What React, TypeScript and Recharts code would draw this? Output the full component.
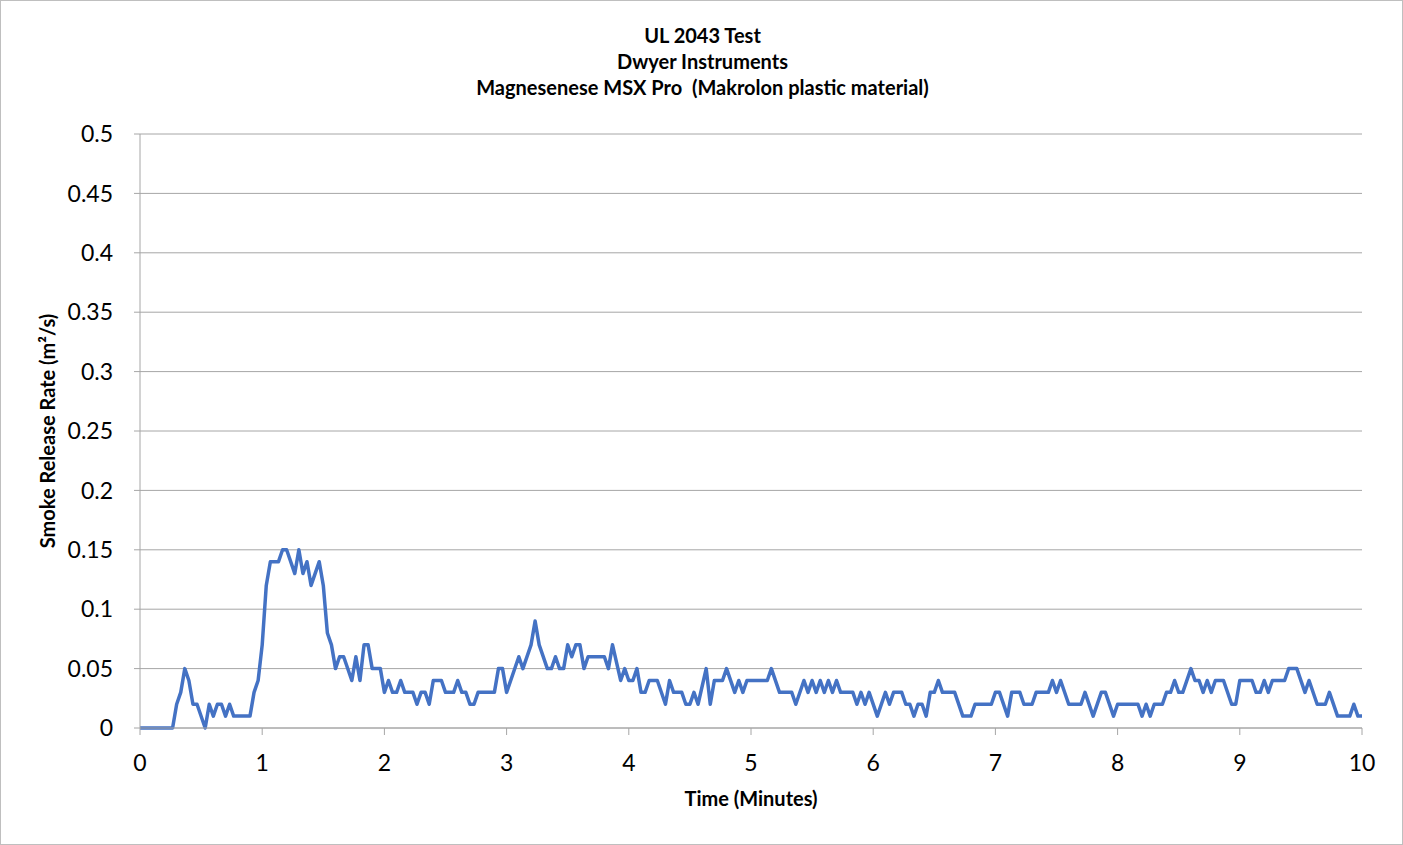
import { LineChart, Line, XAxis, YAxis, CartesianGrid } from "recharts"

// smoke release readings, time in seconds (2 s logging), value in m²/s
const seconds = [
  0, 16, 18, 20, 22, 24, 26, 28, 32, 34, 36, 38, 40, 42, 44, 46, 54, 56, 58, 60,
  62, 64, 68, 70, 72, 76, 78, 80, 82, 84, 88, 90, 92, 94, 96, 98, 100, 104, 106, 108,
  110, 112, 114, 118, 120, 122, 124, 126, 128, 130, 134, 136, 138, 140, 142, 144, 148, 150, 154, 156,
  158, 160, 162, 164, 166, 174, 176, 178, 180, 186, 188, 192, 194, 196, 200, 202, 204, 206, 208, 210,
  212, 214, 216, 218, 220, 228, 230, 232, 236, 238, 240, 242, 244, 246, 248, 250, 254, 258, 260, 262,
  266, 268, 270, 272, 274, 278, 280, 282, 286, 288, 292, 294, 296, 298, 308, 310, 314, 320, 322, 326,
  328, 330, 332, 334, 336, 338, 340, 342, 344, 350, 352, 354, 356, 358, 362, 366, 368, 370, 374, 376,
  378, 380, 382, 384, 386, 388, 390, 392, 394, 400, 404, 408, 410, 418, 420, 422, 426, 428, 432, 434,
  438, 440, 446, 448, 450, 452, 456, 462, 464, 468, 472, 474, 478, 480, 490, 492, 494, 496, 498, 502,
  504, 506, 508, 510, 512, 516, 518, 520, 522, 524, 526, 528, 532, 536, 538, 540, 546, 548, 550, 552,
  554, 556, 562, 564, 568, 572, 574, 578, 582, 584, 588, 594, 596, 598, 600,
]
const smokeRate = [
  0, 0, 0.02, 0.03, 0.05, 0.04, 0.02, 0.02, 0, 0.02, 0.01, 0.02, 0.02, 0.01, 0.02, 0.01, 0.01, 0.03, 0.04, 0.07,
  0.12, 0.14, 0.14, 0.15, 0.15, 0.13, 0.15, 0.13, 0.14, 0.12, 0.14, 0.12, 0.08, 0.07, 0.05, 0.06, 0.06, 0.04, 0.06, 0.04,
  0.07, 0.07, 0.05, 0.05, 0.03, 0.04, 0.03, 0.03, 0.04, 0.03, 0.03, 0.02, 0.03, 0.03, 0.02, 0.04, 0.04, 0.03, 0.03, 0.04,
  0.03, 0.03, 0.02, 0.02, 0.03, 0.03, 0.05, 0.05, 0.03, 0.06, 0.05, 0.07, 0.09, 0.07, 0.05, 0.05, 0.06, 0.05, 0.05, 0.07,
  0.06, 0.07, 0.07, 0.05, 0.06, 0.06, 0.05, 0.07, 0.04, 0.05, 0.04, 0.04, 0.05, 0.03, 0.03, 0.04, 0.04, 0.02, 0.04, 0.03,
  0.03, 0.02, 0.02, 0.03, 0.02, 0.05, 0.02, 0.04, 0.04, 0.05, 0.03, 0.04, 0.03, 0.04, 0.04, 0.05, 0.03, 0.03, 0.02, 0.04,
  0.03, 0.04, 0.03, 0.04, 0.03, 0.04, 0.03, 0.04, 0.03, 0.03, 0.02, 0.03, 0.02, 0.03, 0.01, 0.03, 0.02, 0.03, 0.03, 0.02,
  0.02, 0.01, 0.02, 0.02, 0.01, 0.03, 0.03, 0.04, 0.03, 0.03, 0.01, 0.01, 0.02, 0.02, 0.03, 0.03, 0.01, 0.03, 0.03, 0.02,
  0.02, 0.03, 0.03, 0.04, 0.03, 0.04, 0.02, 0.02, 0.03, 0.01, 0.03, 0.03, 0.01, 0.02, 0.02, 0.01, 0.02, 0.01, 0.02, 0.02,
  0.03, 0.03, 0.04, 0.03, 0.03, 0.05, 0.04, 0.04, 0.03, 0.04, 0.03, 0.04, 0.04, 0.02, 0.02, 0.04, 0.04, 0.03, 0.03, 0.04,
  0.03, 0.04, 0.04, 0.05, 0.05, 0.03, 0.04, 0.02, 0.02, 0.03, 0.01, 0.01, 0.02, 0.01, 0.01,
]

const xTicks = [0, 1, 2, 3, 4, 5, 6, 7, 8, 9, 10]
const yTicks = [0, 0.05, 0.1, 0.15, 0.2, 0.25, 0.3, 0.35, 0.4, 0.45, 0.5]
const titleLines = ["UL 2043 Test", "Dwyer Instruments", "Magnesenese MSX Pro  (Makrolon plastic material)"]

const data = seconds.map((s, i) => ({ t: s / 60, v: smokeRate[i] }))

const font = "Lato, Calibri, 'Open Sans', sans-serif"
const gridColor = "#a6a6a6"

export default function App() {
  return (
    <div
      style={{
        position: "absolute",
        left: 0,
        top: 0,
        width: 1403,
        height: 845,
        boxSizing: "border-box",
        border: "1px solid #bfbfbf",
        background: "#fff",
        fontFamily: font,
      }}
    >
      <div style={{ position: "absolute", left: 0, top: 0 }}>
        <LineChart width={1403} height={845} data={data} margin={{ top: 133, right: 42, bottom: 88, left: 0 }}>
          <CartesianGrid vertical={false} stroke={gridColor} strokeWidth={1} />
          <XAxis
            type="number"
            dataKey="t"
            domain={[0, 10]}
            ticks={xTicks}
            height={30}
            stroke={gridColor}
            tickSize={7}
            tickMargin={20}
            tick={{ fill: "#000", fontSize: 23, fontFamily: font }}
          />
          <YAxis
            type="number"
            domain={[0, 0.5]}
            ticks={yTicks}
            width={139}
            stroke={gridColor}
            tickSize={6}
            tickMargin={21}
            tick={{ fill: "#000", fontSize: 23, fontFamily: font }}
          />
          <Line
            type="linear"
            dataKey="v"
            stroke="#4472C4"
            strokeWidth={3.5}
            strokeLinejoin="round"
            dot={false}
            isAnimationActive={false}
          />
        </LineChart>
      </div>

      {titleLines.map((line, i) => (
        <div
          key={line}
          style={{
            position: "absolute",
            left: 0,
            width: 1403,
            top: 23 + i * 26,
            textAlign: "center",
            fontSize: 20,
            fontWeight: 700,
            lineHeight: "22px",
            whiteSpace: "pre",
          }}
        >
          {line}
        </div>
      ))}

      <div
        style={{
          position: "absolute",
          left: 139,
          width: 1222,
          top: 786,
          textAlign: "center",
          fontSize: 20,
          fontWeight: 700,
          lineHeight: "22px",
        }}
      >
        Time (Minutes)
      </div>

      <div
        style={{
          position: "absolute",
          left: 46,
          top: 430,
          transform: "translate(-50%, -50%) rotate(-90deg)",
          fontSize: 20,
          fontWeight: 700,
          lineHeight: "22px",
          whiteSpace: "nowrap",
        }}
      >
        Smoke Release Rate (m²/s)
      </div>
    </div>
  )
}
